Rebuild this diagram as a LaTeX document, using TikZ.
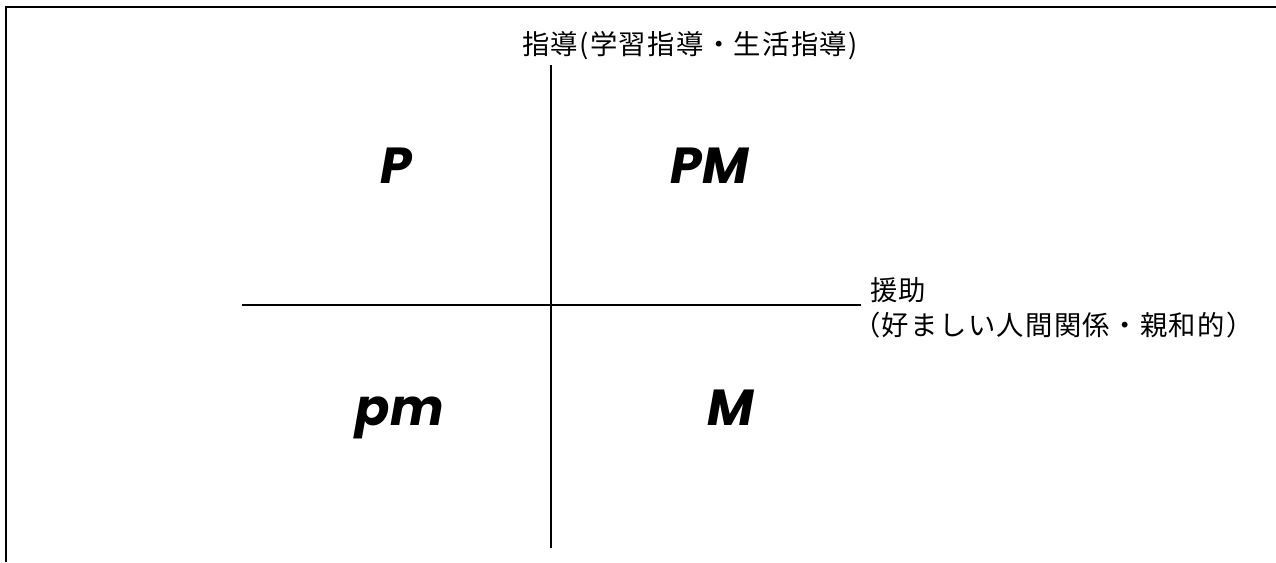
\documentclass[tikz,border=0pt]{standalone}
\usepackage{fontspec}
\newfontfamily\jpfont{Noto Sans CJK JP}[LetterSpace=5]
\newfontfamily\latfont{Poppins}
\begin{document}
\begin{tikzpicture}[x=0.75pt,y=-0.75pt,
  jp/.style={font=\jpfont\fontsize{20.5}{24}\selectfont, inner sep=0pt},
  big/.style={font=\latfont\bfseries\itshape\fontsize{38}{40}\selectfont, inner sep=0pt, anchor=base},
  axis/.style={line width=1.1pt},
  frameline/.style={line width=1.5pt}]
\useasboundingbox (0,0) rectangle (1276,562);
\coordinate (ftl) at (6,7);
\coordinate (ftr) at (1276,7);
\coordinate (fbl) at (6,562);
\draw[frameline] (ftr) -- (ftl) -- (fbl);
\coordinate (vt) at (551,65);
\coordinate (vb) at (551,548);
\coordinate (hl) at (242,305);
\coordinate (hr) at (861,305);
\draw[axis] (vt) -- (vb);
\draw[axis] (hl) -- (hr);
\node[jp] (ylab) at (690,46) {指導(学習指導・生活指導)};
\node[jp, anchor=west] (xlab1) at (870,290) {援助};
\node[jp, anchor=west] (xlab2) at (853,325) {（好ましい人間関係・親和的）};
\node[big] (qp) at (396,183) {P};
\node[big] (qpm) at (710,183) {PM};
\node[big] (qpml) at (400,425) {pm};
\node[big] (qm) at (731,425) {M};
\end{tikzpicture}
\end{document}
